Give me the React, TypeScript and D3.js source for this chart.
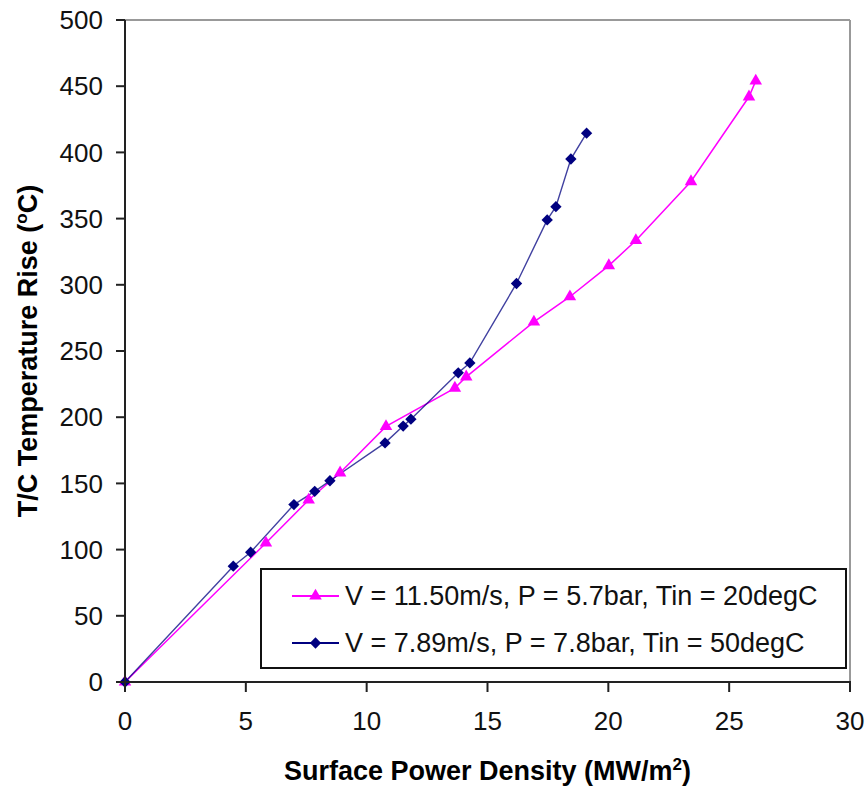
import React from "react";
import * as d3 from "d3";

const pinkX = [0, 5.83, 7.6, 8.9, 10.8, 13.65, 14.12, 16.92, 18.41, 20.02, 21.14, 23.42, 25.82, 26.1];
const pinkY = [0, 105, 137.5, 158, 193, 222, 230.5, 272, 291, 314.5, 333.5, 378, 442, 454];
const navyX = [0, 4.48, 5.2, 6.99, 7.85, 8.48, 10.76, 11.51, 11.83, 13.79, 14.27, 16.2, 17.47, 17.83, 18.45, 19.1];
const navyY = [0, 87.5, 98, 134, 144, 152, 180.6, 193.3, 198.5, 233.5, 241, 301, 349, 359, 395, 414.5];
const xTicks = [0, 5, 10, 15, 20, 25, 30];
const yTicks = [0, 50, 100, 150, 200, 250, 300, 350, 400, 450, 500];
const seriesNames = [
  "V = 11.50m/s, P = 5.7bar, Tin = 20degC",
  "V = 7.89m/s, P = 7.8bar, Tin = 50degC",
];

const W = 868, H = 789;
const L = 125, R = 850, T = 20, B = 682;
const FONT = "'Liberation Sans', Arial, sans-serif";
const PINK = "#ff00ff";
const NAVY = "#000080";

export default function App() {
  const x = d3.scaleLinear().domain([0, 30]).range([L, R]);
  const y = d3.scaleLinear().domain([0, 500]).range([B, T]);
  const line = d3.line<[number, number]>().x(d => x(d[0])).y(d => y(d[1]));
  const pink: [number, number][] = pinkX.map((v, i) => [v, pinkY[i]]);
  const navy: [number, number][] = navyX.map((v, i) => [v, navyY[i]]);
  const tri = d3.symbol().type(d3.symbolTriangle).size(68)()!;
  const dia = d3.symbol().type(d3.symbolSquare).size(64)()!;

  return (
    <svg width={W} height={H} style={{ position: "absolute", left: 0, top: 0, background: "#fff" }}>
      <rect x={0} y={0} width={W} height={H} fill="#fff" />
      {/* frame */}
      <line x1={L} x2={R} y1={T} y2={T} stroke="#999" strokeWidth={2} />
      <line x1={R} x2={R} y1={T} y2={B} stroke="#999" strokeWidth={2} />
      {/* series */}
      <path d={line(pink)!} fill="none" stroke={PINK} strokeWidth={1.5} />
      <path d={line(navy)!} fill="none" stroke={NAVY} strokeWidth={1.4} strokeOpacity={0.75} />
      {pink.map((d, i) => (
        <path key={"p" + i} d={tri} transform={`translate(${x(d[0])},${y(d[1])})`} fill={PINK} />
      ))}
      {navy.map((d, i) => (
        <path key={"n" + i} d={dia} transform={`translate(${x(d[0])},${y(d[1])}) rotate(45)`} fill={NAVY} />
      ))}
      {/* axes */}
      <line x1={L} x2={L} y1={T} y2={B + 1} stroke="#222" strokeWidth={2} />
      <line x1={L - 1} x2={R + 1} y1={B} y2={B} stroke="#222" strokeWidth={2} />
      {yTicks.map(t => (
        <g key={"y" + t}>
          <line x1={L - 9} x2={L} y1={y(t)} y2={y(t)} stroke="#222" strokeWidth={2} />
          <text x={103} y={y(t)} dy="0.35em" textAnchor="end" fontFamily={FONT} fontSize={26} fill="#111">{t}</text>
        </g>
      ))}
      {xTicks.map(t => (
        <g key={"x" + t}>
          <line x1={x(t)} x2={x(t)} y1={B} y2={B + 10} stroke="#222" strokeWidth={2} />
          <text x={x(t)} y={730} textAnchor="middle" fontFamily={FONT} fontSize={26} fill="#111">{t}</text>
        </g>
      ))}
      {/* axis titles */}
      <text x={(L + R) / 2} y={780} textAnchor="middle" fontFamily={FONT} fontSize={27} fontWeight="bold" fill="#000">
        Surface Power Density (MW/m<tspan dy={-10} fontSize={17}>2</tspan><tspan dy={10}>)</tspan>
      </text>
      <text transform={`translate(37,${(T + B) / 2}) rotate(-90)`} textAnchor="middle" fontFamily={FONT} fontSize={27} fontWeight="bold" fill="#000">
        T/C Temperature Rise (<tspan dy={-10} fontSize={17}>o</tspan><tspan dy={10}>C)</tspan>
      </text>
      {/* legend */}
      <rect x={261} y={569} width={585} height={99} fill="#fff" stroke="#111" strokeWidth={2} />
      {seriesNames.map((name, i) => {
        const cy = 596 + i * 47;
        return (
          <g key={"l" + i}>
            <line x1={292} x2={339} y1={cy} y2={cy} stroke={i === 0 ? PINK : NAVY} strokeWidth={2} />
            <path d={i === 0 ? tri : dia} transform={`translate(315.5,${cy}) ${i === 0 ? "" : "rotate(45)"}`} fill={i === 0 ? PINK : NAVY} />
            <text x={345} y={cy} dy="0.35em" fontFamily={FONT} fontSize={27} fill="#111">{name}</text>
          </g>
        );
      })}
    </svg>
  );
}
